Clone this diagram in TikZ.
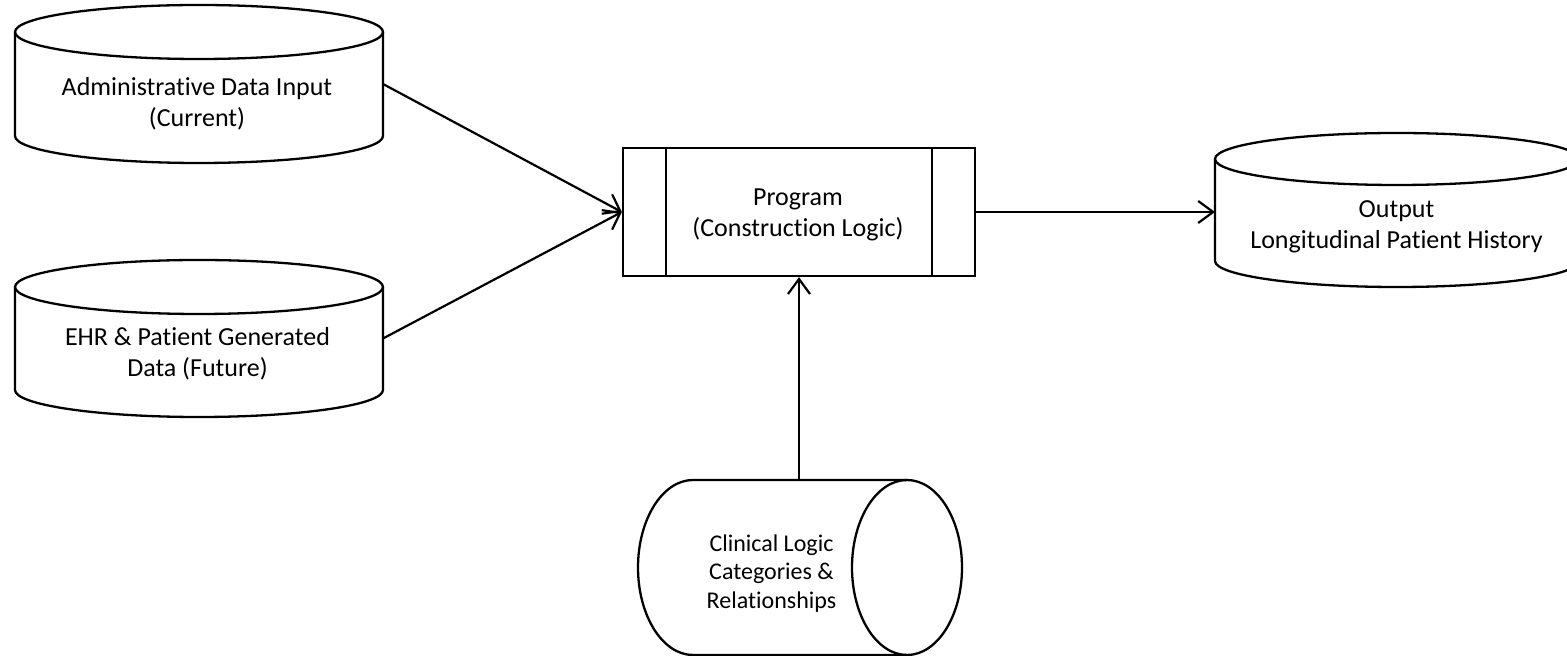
\documentclass[tikz,border=0pt]{standalone}
\usepackage{fontspec}
\setmainfont{Carlito}[Ligatures={NoCommon,NoContextual}]
\usetikzlibrary{arrows.meta}
\begin{document}
\begin{tikzpicture}[x=1pt,y=1pt,
  outline/.style={line width=2.3pt, line join=round},
  link/.style={line width=2.2pt, -{Straight Barb[length=15pt,width=22pt,line width=2.2pt]}},
  lbl/.style={align=center, inner sep=0pt, font=\fontsize{26}{31}\selectfont},
  smalllbl/.style={align=center, inner sep=0pt, font=\fontsize{24}{28.8}\selectfont},
  body/.style={inner sep=0pt, outer sep=0pt, minimum width=#1},
  body/.default=368]
\useasboundingbox (0,0) rectangle (1567,656);
\clip (0,0) rectangle (1567,656);

% data source: administrative data
\draw[outline] (15,624) -- (15,520)
  arc[start angle=180, end angle=360, x radius=184, y radius=27] -- (383,624);
\draw[outline] (199,624) ellipse[x radius=184, y radius=27];
\node[body, minimum height=158] (admin) at (199,572) {};
\node[lbl] (adminlbl) at (197,552) {Administrative Data Input\\(Current)};

% data source: EHR and patient generated data
\draw[outline] (15,369) -- (15,266)
  arc[start angle=180, end angle=360, x radius=184, y radius=27] -- (383,369);
\draw[outline] (199,369) ellipse[x radius=184, y radius=27];
\node[body, minimum height=157] (ehr) at (199,317.5) {};
\node[lbl] (ehrlbl) at (197.5,302) {EHR \& Patient Generated\\Data (Future)};

% predefined process box
\node[draw, line width=2.3pt, minimum width=352, minimum height=128, inner sep=0pt]
  (prog) at (799,444) {};
\draw[outline] ([xshift=44]prog.north west) -- ([xshift=44]prog.south west);
\draw[outline] ([xshift=-44]prog.north east) -- ([xshift=-44]prog.south east);
\node[lbl] (proglbl) at (798,441) {Program\\(Construction Logic)};

% output store
\draw[outline] (1215,497) -- (1215,395)
  arc[start angle=180, end angle=360, x radius=182, y radius=26] -- (1579,497);
\draw[outline] (1397,497) ellipse[x radius=182, y radius=26];
\node[body=364, minimum height=154] (out) at (1397,446) {};
\node[lbl] (outlbl) at (1396.5,429) {Output\\Longitudinal Patient History};

% horizontal store: clinical logic
\draw[outline] (907,176) -- (693,176)
  arc[start angle=90, end angle=270, x radius=55, y radius=87.5] -- (907,1);
\draw[outline] (907,88.5) ellipse[x radius=55, y radius=87.5];
\node[body=324, minimum height=175] (clin) at (800,88.5) {};
\node[smalllbl] (clinlbl) at (771.5,82.5) {Clinical Logic\\Categories \&\\Relationships};

% connectors
\draw[link] (admin.east) -- (prog.west);
\draw[link] (ehr.east) -- (prog.west);
\draw[link] (prog.east) -- (prog.east -| out.west);
\draw[link] (prog.south |- clin.north) -- (prog.south);
\end{tikzpicture}
\end{document}
